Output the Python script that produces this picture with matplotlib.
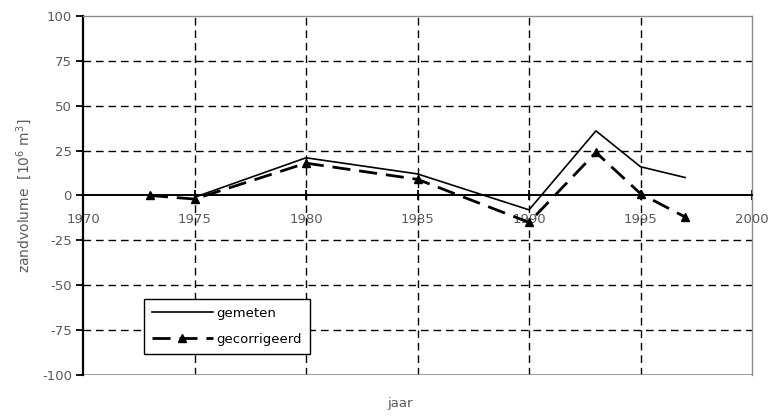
import matplotlib
matplotlib.use("Agg")
import matplotlib.pyplot as plt

# measured and corrected sand volume per year
years_measured = [1975, 1980, 1985, 1990, 1993, 1995, 1997]
vol_measured = [-1, 21, 12, -8, 36, 16, 10]

years_corrected = [1973, 1975, 1980, 1985, 1990, 1993, 1995, 1997]
vol_corrected = [0, -2, 18, 9, -15, 24, 1, -12]

x_ticks = [1970, 1975, 1980, 1985, 1990, 1995, 2000]
y_ticks = [-100, -75, -50, -25, 0, 25, 50, 75, 100]

label_gray = "#5a5a5a"
frame_gray = "#8a8a8a"

plt.rcParams["font.family"] = ["DejaVu Sans"]
plt.rcParams["axes.unicode_minus"] = False

fig = plt.figure(figsize=(7.73, 4.16), dpi=100)
ax = fig.add_axes([0.1074, 0.0986, 0.8655, 0.863])
ax.set_xlim(x_ticks[0], x_ticks[-1])
ax.set_ylim(y_ticks[0], y_ticks[-1])

# dashed grid on the inner ticks only
ax.hlines([v for v in y_ticks[1:-1] if v != 0], x_ticks[0], x_ticks[-1],
          colors="black", linewidth=1.0, linestyles=(0, (5.5, 3.5)), zorder=1)
ax.vlines(x_ticks[1:-1], y_ticks[0], y_ticks[-1],
          colors="black", linewidth=1.0, linestyles=(0, (5.5, 3.5)), zorder=1)

# frame: black left axis, thin gray box elsewhere
for side in ("top", "right"):
    ax.spines[side].set_color(frame_gray)
    ax.spines[side].set_linewidth(1.0)
ax.spines["left"].set_color("black")
ax.spines["left"].set_linewidth(1.6)
ax.spines["bottom"].set_position(("data", 0))
ax.spines["bottom"].set_color("black")
ax.spines["bottom"].set_linewidth(1.4)
ax.axhline(y_ticks[0], color=frame_gray, linewidth=1.2, zorder=1)

ax.set_xticks(x_ticks)
ax.set_yticks(y_ticks)
ax.tick_params(axis="x", direction="inout", length=7, width=1.3,
               colors="black", labelcolor=label_gray, labelsize=9.5, pad=9)
ax.tick_params(axis="y", direction="out", length=5, width=1.3,
               colors="black", labelcolor=label_gray, labelsize=9.5, pad=3)

ax.plot(years_measured, vol_measured, color="black", linewidth=1.2,
        label="gemeten", zorder=3)
ax.plot(years_corrected, vol_corrected, color="black", linewidth=2.0,
        linestyle=(0, (6.5, 3.2)), marker="^", markersize=5.5,
        label="gecorrigeerd", zorder=3)

ax.set_ylabel("zandvolume  [10$^6$ m$^3$]", color=label_gray, fontsize=10,
              labelpad=6)
ax.set_xlabel("jaar", color=label_gray, fontsize=9.5)
ax.xaxis.set_label_coords(0.474, -0.06)

leg = ax.legend(loc="upper left", bbox_to_anchor=(0.091, 0.2117),
                fontsize=9.5, frameon=True, fancybox=False, edgecolor="black",
                handlelength=4.6, numpoints=1, borderpad=0.6,
                labelspacing=1.0, handletextpad=0.3, borderaxespad=0)
leg.get_frame().set_linewidth(1.0)
leg.get_frame().set_alpha(1)

fig.savefig("out.png", dpi=100)
